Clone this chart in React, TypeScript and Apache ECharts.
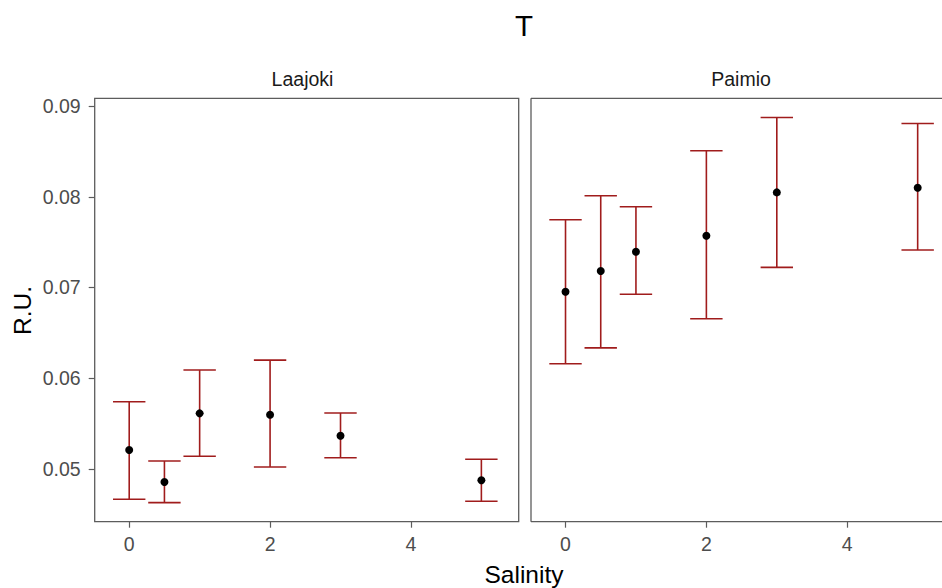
import React, { useEffect, useRef } from "react";
import * as echarts from "echarts";

const salinity = [0, 0.5, 1, 2, 3, 5];
const laajokiMean = [0.0521, 0.04857, 0.05613, 0.05598, 0.05367, 0.04875];
const laajokiLower = [0.04666, 0.04629, 0.0514, 0.05022, 0.05124, 0.04644];
const laajokiUpper = [0.05741, 0.05088, 0.0609, 0.062, 0.05617, 0.05107];
const paimioMean = [0.06954, 0.07182, 0.07394, 0.0757, 0.08048, 0.08099];
const paimioLower = [0.06159, 0.06335, 0.06925, 0.06656, 0.07222, 0.07413];
const paimioUpper = [0.07747, 0.08011, 0.0789, 0.08507, 0.08874, 0.08808];

const panels = ["Laajoki", "Paimio"];
const yTicks = [0.05, 0.06, 0.07, 0.08, 0.09];
const xTicks = [0, 2, 4];

const FONT = "'Liberation Sans', Arial, sans-serif";
const BAR_COLOR = "#A01C1C";
const BORDER = "#5c5c5c";
const CAP_HALF = 0.23;

export default function App() {
  const ref = useRef<HTMLDivElement>(null);
  useEffect(() => {
    document.body.style.margin = "0";
    const chart = echarts.init(ref.current!, null, { renderer: "svg" });
    const grids = [
      { left: 94.7, top: 98.3, width: 424, height: 423.4 },
      { left: 531, top: 98.3, width: 424, height: 423.4 },
    ];
    const series: any[] = [];
    const sets = [
      [laajokiMean, laajokiLower, laajokiUpper],
      [paimioMean, paimioLower, paimioUpper],
    ];
    sets.forEach(([mean, lo, hi], i) => {
      series.push({
        type: "custom",
        xAxisIndex: i,
        yAxisIndex: i,
        clip: false,
        data: salinity.map((s, k) => [s, lo[k], hi[k]]),
        encode: { x: 0, y: [1, 2] },
        renderItem: (params: any, api: any) => {
          const x = api.value(0);
          const l = api.value(1);
          const h = api.value(2);
          const top = api.coord([x, h]);
          const bot = api.coord([x, l]);
          const tl = api.coord([x - CAP_HALF, h]);
          const tr = api.coord([x + CAP_HALF, h]);
          const bl = api.coord([x - CAP_HALF, l]);
          const br = api.coord([x + CAP_HALF, l]);
          const style = { stroke: BAR_COLOR, lineWidth: 1.6 };
          return {
            type: "group",
            children: [
              { type: "line", shape: { x1: top[0], y1: top[1], x2: bot[0], y2: bot[1] }, style },
              { type: "line", shape: { x1: tl[0], y1: tl[1], x2: tr[0], y2: tr[1] }, style },
              { type: "line", shape: { x1: bl[0], y1: bl[1], x2: br[0], y2: br[1] }, style },
            ],
          };
        },
        z: 2,
      });
      series.push({
        type: "scatter",
        xAxisIndex: i,
        yAxisIndex: i,
        data: salinity.map((s, k) => [s, mean[k]]),
        symbolSize: 8,
        itemStyle: { color: "#000", opacity: 1 },
        z: 3,
      });
    });

    const g2 = grids[1];
    const borderStyle = { stroke: BORDER, lineWidth: 1.3 };

    const option: any = {
      animation: false,
      backgroundColor: "#fff",
      grid: grids.map((g, i) => ({
        ...g,
        show: i === 0,
        containLabel: false,
        outerBoundsMode: "none",
        borderColor: BORDER,
        borderWidth: 1.3,
        backgroundColor: "transparent",
      })),
      xAxis: grids.map((_, i) => ({
        type: "value",
        gridIndex: i,
        min: -0.49,
        max: 5.53,
        splitLine: { show: false },
        axisLine: { show: false, onZero: false },
        axisTick: { show: true, length: 6, lineStyle: { color: BORDER, width: 1.2 }, customValues: xTicks },
        axisLabel: {
          show: true,
          margin: 12,
          customValues: xTicks,
          color: "#4D4D4D",
          fontSize: 19.5,
          fontFamily: FONT,
          formatter: (v: number) => String(v),
        },
      })),
      yAxis: grids.map((_, i) => ({
        type: "value",
        gridIndex: i,
        min: 0.04419,
        max: 0.09085,
        splitLine: { show: false },
        axisLine: { show: false, onZero: false },
        axisTick:
          i === 0
            ? { show: true, length: 6, lineStyle: { color: BORDER, width: 1.2 }, customValues: yTicks }
            : { show: false },
        axisLabel:
          i === 0
            ? {
                show: true,
                margin: 14,
                customValues: yTicks,
                color: "#4D4D4D",
                fontSize: 19.5,
                fontFamily: FONT,
                formatter: (v: number) => v.toFixed(2),
              }
            : { show: false },
      })),
      graphic: [
        { type: "line", shape: { x1: g2.left, y1: g2.top, x2: g2.left + g2.width, y2: g2.top }, style: borderStyle },
        { type: "line", shape: { x1: g2.left, y1: g2.top + g2.height, x2: g2.left + g2.width, y2: g2.top + g2.height }, style: borderStyle },
        { type: "line", shape: { x1: g2.left, y1: g2.top, x2: g2.left, y2: g2.top + g2.height }, style: borderStyle },
        { type: "text", x: 524, y: 25, style: { text: "T", fontSize: 29.5, fontFamily: FONT, fill: "#000", textAlign: "center", textVerticalAlign: "middle" } },
        { type: "text", x: 302.5, y: 78.5, style: { text: panels[0], fontSize: 19.5, fontFamily: FONT, fill: "#1A1A1A", textAlign: "center", textVerticalAlign: "middle" } },
        { type: "text", x: 741, y: 78.5, style: { text: panels[1], fontSize: 19.5, fontFamily: FONT, fill: "#1A1A1A", textAlign: "center", textVerticalAlign: "middle" } },
        { type: "text", x: 524, y: 574, style: { text: "Salinity", fontSize: 24.5, fontFamily: FONT, fill: "#000", textAlign: "center", textVerticalAlign: "middle" } },
        { type: "text", x: 22, y: 310.5, rotation: Math.PI / 2, style: { text: "R.U.", fontSize: 24.5, fontFamily: FONT, fill: "#000", textAlign: "center", textVerticalAlign: "middle" } },
      ],
      series,
    };
    chart.setOption(option);
    return () => chart.dispose();
  }, []);
  return <div ref={ref} style={{ position: "fixed", left: 0, top: 0, width: 942, height: 588 }} />;
}
